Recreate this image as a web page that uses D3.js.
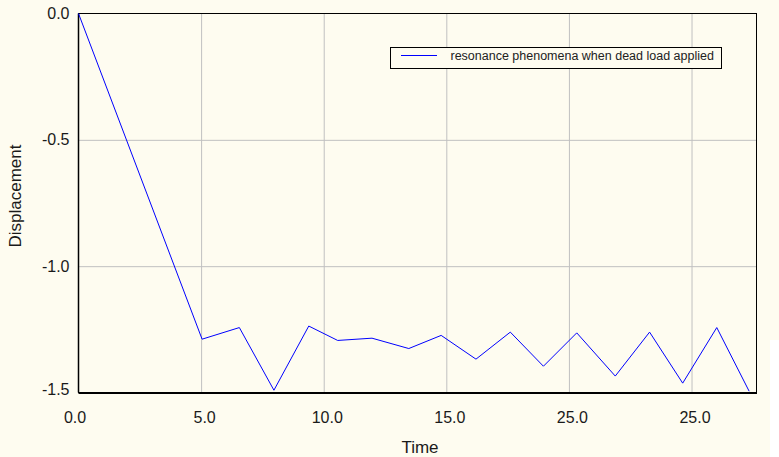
<!DOCTYPE html>
<html>
<head>
<meta charset="utf-8">
<script src="https://cdn.jsdelivr.net/npm/d3@7"></script>
<style>
  html, body { margin: 0; padding: 0; background: #fefcf0; }
  svg { display: block; }
  text { font-family: "Liberation Sans", Arial, sans-serif; }
</style>
</head>
<body>
<svg id="chart" width="779" height="457"></svg>
<script>
// ---- data ----
const timeValues = [0, 5.04, 6.56, 7.97, 9.39, 10.57, 11.97, 13.47, 14.79, 16.21, 17.61, 18.96, 20.32, 21.89, 23.29, 24.64, 26.03, 27.35];
const displacementValues = [0, -1.289, -1.243, -1.491, -1.237, -1.294, -1.285, -1.326, -1.274, -1.368, -1.261, -1.396, -1.264, -1.435, -1.261, -1.463, -1.243, -1.495];
const xTickValues = [0, 5, 10, 15, 20, 25];
const xTickLabels = ["0.0", "5.0", "10.0", "15.0", "25.0", "25.0"];
const yTickValues = [0, -0.5, -1.0, -1.5];
const yTickLabels = ["0.0", "-0.5", "-1.0", "-1.5"];
const seriesName = "resonance phenomena when dead load applied";
const xTitle = "Time";
const yTitle = "Displacement";

// ---- layout ----
const svg = d3.select("#chart");
const pL = 78.5, pR = 756.5, pT = 13.5, pB = 392.5;
const x = d3.scaleLinear().domain([0, 27.65]).range([pL, pR]);
const y = d3.scaleLinear().domain([-1.5, 0]).range([pB, pT]);

svg.append("rect").attr("x", 0).attr("y", 0).attr("width", 779).attr("height", 457).attr("fill", "#fefcf0");
svg.append("rect").attr("x", 770).attr("y", 340).attr("width", 9).attr("height", 117).attr("fill", "#ffffff");

// gridlines
const gx = svg.append("g").attr("transform", `translate(0,${pB})`)
  .call(d3.axisBottom(x).tickValues(xTickValues.slice(1)).tickSize(-(pB - pT)).tickFormat(""));
gx.select(".domain").remove();
gx.selectAll("line").attr("stroke", "#c0c0c0").attr("stroke-width", 1);

const gy = svg.append("g").attr("transform", `translate(${pL},0)`)
  .call(d3.axisLeft(y).tickValues([-0.5, -1.0]).tickSize(-(pR - pL)).tickFormat(""));
gy.select(".domain").remove();
gy.selectAll("line").attr("stroke", "#c0c0c0").attr("stroke-width", 1);

// frame
svg.append("rect").attr("x", pL).attr("y", pT).attr("width", pR - pL).attr("height", pB - pT)
  .attr("fill", "none").attr("stroke", "#000").attr("stroke-width", 1);
svg.append("line").attr("x1", pL).attr("x2", pR + 0.5).attr("y1", pB + 0.5).attr("y2", pB + 0.5)
  .attr("stroke", "#000").attr("stroke-width", 2);
svg.append("line").attr("x1", pL).attr("x2", pL).attr("y1", pT).attr("y2", pB)
  .attr("stroke", "#000").attr("stroke-width", 1.5);

// tick labels via axes
const ax = svg.append("g").attr("transform", `translate(3,${pB})`)
  .call(d3.axisBottom(x).tickValues(xTickValues).tickSize(0).tickPadding(19)
    .tickFormat((d, i) => xTickLabels[i]));
ax.select(".domain").remove();
ax.selectAll("text").attr("font-size", 16).attr("fill", "#1a1a1a")
  .attr("font-family", "'Liberation Sans', Arial, sans-serif");
ax.selectAll(".tick").filter((d, i) => i === 0).select("text").attr("dx", -7);

const ay = svg.append("g").attr("transform", `translate(${pL - 9},0)`)
  .call(d3.axisLeft(y).tickValues(yTickValues).tickSize(0).tickPadding(0)
    .tickFormat((d, i) => yTickLabels[i]));
ay.select(".domain").remove();
ay.selectAll("text").attr("font-size", 16).attr("fill", "#1a1a1a")
  .attr("font-family", "'Liberation Sans', Arial, sans-serif");
ay.selectAll(".tick").filter((d, i) => i === yTickValues.length - 1).select("text").attr("dy", "0.1em");

// axis titles
svg.append("text").attr("x", 420).attr("y", 453).attr("text-anchor", "middle")
  .attr("font-size", 17).attr("fill", "#1a1a1a").text(xTitle);
svg.append("text").attr("transform", "translate(21,196) rotate(-90)").attr("text-anchor", "middle")
  .attr("font-size", 17).attr("fill", "#1a1a1a").text(yTitle);

// series line
const pts = timeValues.map((t, i) => [t, displacementValues[i]]);
svg.append("path").datum(pts)
  .attr("d", d3.line().x(d => x(d[0])).y(d => y(d[1])))
  .attr("fill", "none").attr("stroke", "#0000ff").attr("stroke-width", 1);

// legend
const lg = svg.append("g");
lg.append("rect").attr("x", 390.5).attr("y", 47.5).attr("width", 331).attr("height", 21)
  .attr("fill", "#fefcf0").attr("stroke", "#000").attr("stroke-width", 1);
lg.append("line").attr("x1", 401).attr("x2", 437).attr("y1", 55.5).attr("y2", 55.5)
  .attr("stroke", "#0000ff").attr("stroke-width", 1);
lg.append("text").attr("x", 450.5).attr("y", 60).attr("font-size", 12.5).attr("fill", "#222")
  .text(seriesName);
</script>
</body>
</html>
